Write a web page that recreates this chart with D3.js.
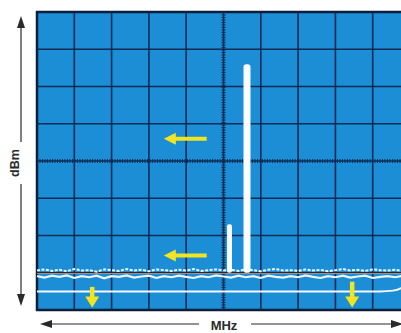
<!DOCTYPE html>
<html>
<head>
<meta charset="utf-8">
<script src="https://cdn.jsdelivr.net/npm/d3@7"></script>
<style>
  body { margin: 0; background: #fff; }
  svg { display: block; }
</style>
</head>
<body>
<div id="chart"></div>
<script>
var width = 401, height = 333;

// screen divisions (10 x 8), 10 dB per division
var xDivs = d3.range(0, 11);
var yDivs = d3.range(0, 9);

// noise floor (frequency in divisions, level in dBm)
var noiseFreq = [0, 0.2, 0.4, 0.6, 0.8, 1.0, 1.2, 1.4, 1.6, 1.8, 2.0, 2.2, 2.4, 2.6, 2.8, 3.0, 3.2, 3.4, 3.6, 3.8,
                 4.0, 4.2, 4.4, 4.6, 4.8, 5.0, 5.2, 5.4, 5.6, 5.8, 6.0, 6.2, 6.4, 6.6, 6.8, 7.0, 7.2, 7.4, 7.6, 7.8,
                 8.0, 8.2, 8.4, 8.6, 8.8, 9.0, 9.2, 9.4, 9.6, 9.8, 10.0];
var noiseHigh = [-69.4, -69.1, -69.5, -69.2, -69.6, -69.0, -69.4, -69.3, -69.7, -69.1, -69.3, -69.5, -69.0, -69.4, -69.2, -69.6, -69.1, -69.3, -69.5, -69.2,
                 -69.4, -69.0, -69.5, -69.3, -69.1, -69.4, -69.2, -69.5, -69.1, -69.3, -69.6, -69.2, -69.0, -69.4, -69.3, -69.5, -69.1, -69.4, -69.2, -69.6,
                 -69.3, -69.0, -69.4, -69.2, -69.5, -69.1, -69.3, -69.4, -69.2, -69.5, -69.3];
var noiseLow = [-70.9, -71.3, -70.8, -71.1, -70.7, -71.4, -70.9, -71.2, -70.8, -71.5, -70.9, -71.1, -70.7, -71.3, -71.0, -70.8, -71.4, -70.9, -71.2, -70.8,
                -71.1, -71.4, -70.9, -71.2, -70.7, -71.0, -71.3, -70.8, -71.2, -70.9, -71.4, -70.8, -71.1, -71.3, -70.9, -71.2, -70.7, -71.1, -71.4, -70.9,
                -71.2, -70.8, -71.3, -71.0, -70.8, -71.4, -71.1, -70.9, -71.2, -70.8, -71.1];

// lower (reduced) floor trace, rising back up at the right edge
var floorFreq = [0, 2, 4, 6, 8, 9.2, 9.55, 9.75, 9.9, 10];
var floorLevel = [-75, -75, -75, -75, -75, -75, -74.8, -74.2, -72.5, -71];

// signals
var peakFreq = [5.16, 5.63];
var peakLevel = [-57, -14];
var peakWidth = [5, 7];

// annotation arrows
var leftArrowLevel = [-34, -65.4];
var leftArrowFrom = [4.55, 4.55];
var leftArrowTo = [3.4, 3.4];
var downArrowFreq = [1.48, 8.45];
var downArrowFrom = [-73.8, -72.4];
var downArrowTo = [-79.3, -79.3];

var svg = d3.select("#chart").append("svg")
    .attr("width", width)
    .attr("height", height);

var x = d3.scaleLinear().domain([0, 10]).range([37, 410]);
var y = d3.scaleLinear().domain([0, -80]).range([12, 310]);

// screen
svg.append("rect")
    .attr("x", x(0)).attr("y", y(0))
    .attr("width", x(10) - x(0)).attr("height", y(-80) - y(0))
    .attr("fill", "#1b8ed6")
    .attr("stroke", "#0b1f3a")
    .attr("stroke-width", 2.5);

// grid
svg.selectAll(".vgrid")
    .data(xDivs.filter(function(d) { return d > 0 && d < 10 && d != 5; }))
    .enter().append("line")
    .attr("x1", function(d) { return x(d); }).attr("x2", function(d) { return x(d); })
    .attr("y1", y(0)).attr("y2", y(-80))
    .attr("stroke", "#0d2b55").attr("stroke-width", 1.6);
svg.selectAll(".hgrid")
    .data(yDivs.filter(function(d) { return d > 0 && d < 8 && d != 4; }))
    .enter().append("line")
    .attr("x1", x(0)).attr("x2", x(10))
    .attr("y1", function(d) { return y(-10 * d); }).attr("y2", function(d) { return y(-10 * d); })
    .attr("stroke", "#0d2b55").attr("stroke-width", 1.6);

// graduated centre lines
svg.append("line")
    .attr("x1", x(5)).attr("x2", x(5)).attr("y1", y(0)).attr("y2", y(-80))
    .attr("stroke", "#0d2b55").attr("stroke-width", 1.6);
svg.append("line")
    .attr("x1", x(5)).attr("x2", x(5)).attr("y1", y(0)).attr("y2", y(-80))
    .attr("stroke", "#0d2b55").attr("stroke-width", 4).attr("stroke-dasharray", "1,1.5");
svg.append("line")
    .attr("x1", x(0)).attr("x2", x(10)).attr("y1", y(-40)).attr("y2", y(-40))
    .attr("stroke", "#0d2b55").attr("stroke-width", 1.6);
svg.append("line")
    .attr("x1", x(0)).attr("x2", x(10)).attr("y1", y(-40)).attr("y2", y(-40))
    .attr("stroke", "#0d2b55").attr("stroke-width", 4).attr("stroke-dasharray", "1,1.5");

// traces
var line = d3.line()
    .x(function(d) { return x(d[0]); })
    .y(function(d) { return y(d[1]); });

svg.append("path")
    .datum(d3.zip(floorFreq, floorLevel))
    .attr("d", line.curve(d3.curveMonotoneX))
    .attr("fill", "none").attr("stroke", "#f4f8ff").attr("stroke-width", 2);
line.curve(d3.curveLinear);

svg.append("path")
    .datum(d3.zip(noiseFreq, noiseHigh))
    .attr("d", line)
    .attr("fill", "none").attr("stroke", "#f4f8ff").attr("stroke-width", 2)
    .attr("stroke-dasharray", "3,1.5");
svg.append("line")
    .attr("x1", x(0)).attr("x2", x(10)).attr("y1", y(-70.2)).attr("y2", y(-70.2))
    .attr("stroke", "#b88a6e").attr("stroke-width", 1);
svg.append("path")
    .datum(d3.zip(noiseFreq, noiseLow))
    .attr("d", line)
    .attr("fill", "none").attr("stroke", "#eef4fb").attr("stroke-width", 2.2);

// signal peaks
svg.selectAll(".peak")
    .data(d3.zip(peakFreq, peakLevel, peakWidth))
    .enter().append("rect")
    .attr("x", function(d) { return x(d[0]) - d[2] / 2; })
    .attr("y", function(d) { return y(d[1]); })
    .attr("width", function(d) { return d[2]; })
    .attr("height", function(d) { return y(-70) - y(d[1]); })
    .attr("rx", function(d) { return d[2] / 2.5; })
    .attr("fill", "#fbfdff");

// yellow arrows
var yellow = "#f2e41e";
leftArrowLevel.forEach(function(lv, i) {
  var yy = y(lv), x0 = x(leftArrowFrom[i]), x1 = x(leftArrowTo[i]);
  svg.append("line")
      .attr("x1", x0).attr("x2", x1 + 9).attr("y1", yy).attr("y2", yy)
      .attr("stroke", yellow).attr("stroke-width", 4);
  svg.append("path")
      .attr("d", "M" + x1 + "," + yy + "L" + (x1 + 12) + "," + (yy - 6) + "L" + (x1 + 12) + "," + (yy + 6) + "Z")
      .attr("fill", yellow);
});
downArrowFreq.forEach(function(f, i) {
  var xx = x(f), y0 = y(downArrowFrom[i]), y1 = y(downArrowTo[i]);
  svg.append("line")
      .attr("x1", xx).attr("x2", xx).attr("y1", y0).attr("y2", y1 - 8)
      .attr("stroke", yellow).attr("stroke-width", 4.5);
  svg.append("path")
      .attr("d", "M" + xx + "," + y1 + "L" + (xx - 7) + "," + (y1 - 11) + "L" + (xx + 7) + "," + (y1 - 11) + "Z")
      .attr("fill", yellow);
});

// axis arrows and labels
var ink = "#2a2a2a";
svg.append("line").attr("x1", 21).attr("x2", 21).attr("y1", 24).attr("y2", 142)
    .attr("stroke", ink).attr("stroke-width", 1.2);
svg.append("line").attr("x1", 21).attr("x2", 21).attr("y1", 184).attr("y2", 298)
    .attr("stroke", ink).attr("stroke-width", 1.2);
svg.append("path").attr("d", "M21,16L17,28L25,28Z").attr("fill", ink);
svg.append("path").attr("d", "M21,306L17,294L25,294Z").attr("fill", ink);
svg.append("text")
    .attr("transform", "translate(19,163) rotate(-90)")
    .attr("text-anchor", "middle")
    .attr("font-family", "Liberation Sans, Arial, sans-serif")
    .attr("font-weight", "bold").attr("font-size", 12.5)
    .attr("fill", ink)
    .text("dBm");

svg.append("line").attr("x1", 48).attr("x2", 199).attr("y1", 324).attr("y2", 324)
    .attr("stroke", ink).attr("stroke-width", 1.2);
svg.append("line").attr("x1", 251).attr("x2", 396).attr("y1", 324).attr("y2", 324)
    .attr("stroke", ink).attr("stroke-width", 1.2);
svg.append("path").attr("d", "M40,324L52,320L52,328Z").attr("fill", ink);
svg.append("path").attr("d", "M403,324L391,320L391,328Z").attr("fill", ink);
svg.append("text")
    .attr("x", 224).attr("y", 330)
    .attr("text-anchor", "middle")
    .attr("font-family", "Liberation Sans, Arial, sans-serif")
    .attr("font-weight", "bold").attr("font-size", 13)
    .attr("fill", ink)
    .text("MHz");
</script>
</body>
</html>
